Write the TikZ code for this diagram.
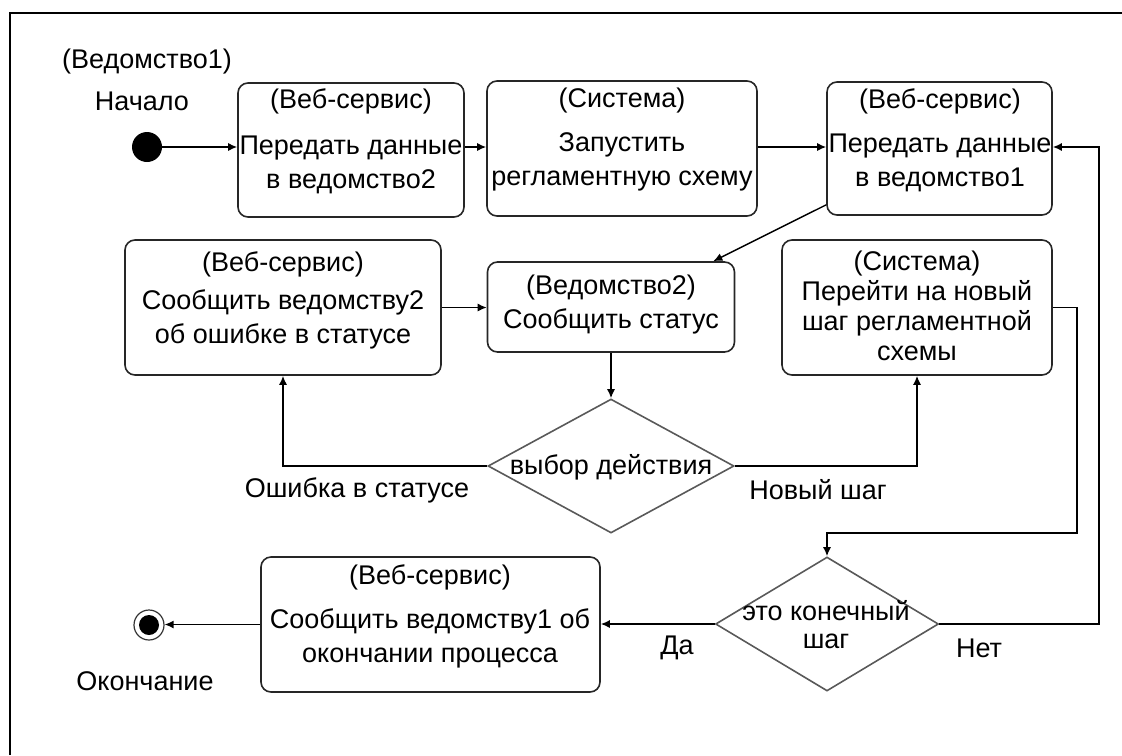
\documentclass[tikz,border=0pt]{standalone}
\usepackage{fontspec}
\setmainfont{Liberation Sans}
\usetikzlibrary{positioning,shapes.geometric,arrows.meta}

\tikzset{
    state/.style={draw=black!85, line width=0.8pt, rounded corners=5pt, inner sep=0pt},
    choice/.style={diamond, draw=black!65, line width=0.8pt, inner sep=0pt,
        minimum height=67pt},
    txt/.style={align=center, inner sep=1pt},
    flow/.style={->, line width=0.7pt}}

\begin{document}
\begin{tikzpicture}[x=0.5pt, y=-0.5pt,
    >={Latex[length=4.5pt,width=4pt]},
    font=\fontsize{13.5}{17}\selectfont]
\useasboundingbox (0,0) rectangle (1122,755);
\draw[line width=1pt] (10,755) |- (1122,13);

\node[txt] (org1) at (147,62) {(Ведомство1)};
\node[circle, fill=black, minimum size=15pt, inner sep=0pt] (start) at (147,147) {};
\node[txt, above=3.3mm of start, xshift=-2.5pt] (startlbl) {Начало};

\node[state, minimum width=113pt, minimum height=67pt] (b1) at (351,150) {};
\node[txt] (b1t) at (351,141) {(Веб-сервис)\\[6pt]Передать данные\\в ведомство2};
\node[state, minimum width=135pt, minimum height=67.5pt] (b2) at (622,148.5) {};
\node[txt] (b2t) at (622,140) {(Система)\\[5pt]Запустить\\регламентную схему};
\node[state, minimum width=112.5pt, minimum height=66.5pt] (b3) at (939.5,148.5) {};
\node[txt] (b3t) at (940,140) {(Веб-сервис)\\[5pt]Передать данные\\в ведомство1};

\node[state, minimum width=158pt, minimum height=67.5pt] (b4) at (283,307.5) {};
\node[txt] (b4t) at (283,300) {(Веб-сервис)\\[2pt]Сообщить ведомству2\\об ошибке в статусе};
\node[state, minimum width=123.5pt, minimum height=45pt] (b5) at (611,307) {};
\node[txt] (b5t) at (611,305) {(Ведомство2)\\Сообщить статус};
\node[state, minimum width=135pt, minimum height=67.5pt] (b6) at (917,307.5) {};
\node[txt] (b6t) at (917,306) {(Система)\\[-2pt]Перейти на новый\\[-2pt]шаг регламентной\\[-2pt]схемы};

\node[choice, minimum width=123pt] (d1) at (611,466) {};
\node[txt] (d1t) at (611,467) {выбор действия};
\node[txt] (errlbl) at (357,490) {Ошибка в статусе};
\node[txt] (steplbl) at (818,490) {Новый шаг};

\node[choice, minimum width=111.5pt] (d2) at (827,624) {};
\node[txt] (d2t) at (826,625) {это конечный\\[-3pt]шаг};
\node[txt] (yeslbl) at (677,648) {Да};
\node[txt] (nolbl) at (979,648) {Нет};

\node[state, minimum width=169.5pt, minimum height=67.5pt] (b7) at (430.5,624.5) {};
\node[txt] (b7t) at (430,616) {(Веб-сервис)\\[5pt]Сообщить ведомству1 об\\окончании процесса};

\node[circle, draw=black!80, line width=0.6pt, minimum size=15pt, inner sep=0pt] (end) at (149,625) {};
\fill (end.center) circle (5pt);
\node[txt, below=5mm of end, xshift=-2pt] (endlbl) {Окончание};

\coordinate (loop1) at (1077,533);
\coordinate (loop2) at (1099,147);

\draw[flow] (start) -- (start -| b1.west);
\draw[flow] (start -| b1.east) -- (start -| b2.west);
\draw[flow] (start -| b2.east) -- (start -| b3.west);
\draw[flow] ([yshift=5.5pt]b3.south west) -- ([xshift=-11pt]b5.north east);
\draw[flow] (b4.east) -- (b4.east -| b5.west);
\draw[flow] (b5.south) -- (d1.north);
\draw[flow] (d1.west) -| (b4.south);
\draw[flow] (d1.east) -| (b6.south);
\draw[flow] (b6.east) -| (loop1) -| (d2.north);
\draw[flow] (d2.east) -| (loop2) -- (loop2 -| b3.east);
\draw[flow] (d2.west) -- (d2.west -| b7.east);
\draw[flow] (b7.west) -- (b7.west -| end.east);
\end{tikzpicture}
\end{document}
